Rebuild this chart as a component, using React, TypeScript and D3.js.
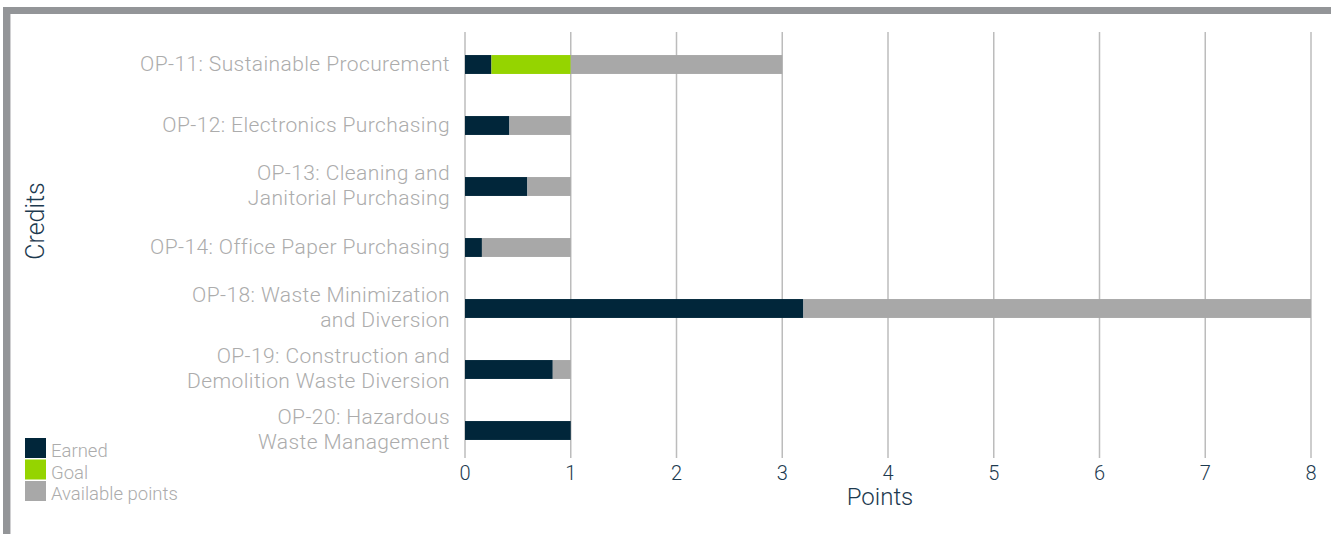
import React, { useRef, useEffect } from "react";
import * as d3 from "d3";

const categories = [
  ["OP-11: Sustainable Procurement"],
  ["OP-12: Electronics Purchasing"],
  ["OP-13: Cleaning and", "Janitorial Purchasing"],
  ["OP-14: Office Paper Purchasing"],
  ["OP-18: Waste Minimization", "and Diversion"],
  ["OP-19: Construction and", "Demolition Waste Diversion"],
  ["OP-20: Hazardous", "Waste Management"],
];
const earned = [0.25, 0.42, 0.59, 0.16, 3.2, 0.83, 1];
const goal = [0.75, 0, 0, 0, 0, 0, 0];
const available = [2, 0.58, 0.41, 0.84, 4.8, 0.17, 0];
const xTicks = [0, 1, 2, 3, 4, 5, 6, 7, 8];
const seriesNames = ["Earned", "Goal", "Available points"];
const seriesColors = ["#01263a", "#95d400", "#a8a8a8"];

const App = () => {
  const svgRef = useRef<SVGSVGElement>(null);
  const width = 1331;
  const height = 534;

  useEffect(() => {
    const svg = d3.select(svgRef.current).attr("width", width).attr("height", height);
    const root = svg.append("g").style("font-family", "Roboto, sans-serif");

    // frame
    root.append("rect").attr("x", 3).attr("y", 7).attr("width", width - 3).attr("height", 7).attr("fill", "#939598");
    root.append("rect").attr("x", 3).attr("y", 7).attr("width", 7).attr("height", height - 7).attr("fill", "#939598");
    root.append("rect").attr("x", 10).attr("y", 14).attr("width", 1).attr("height", height - 14).attr("fill", "#d0d0d2");

    const x = d3.scaleLinear().domain([0, 8]).range([465, 1311]);
    const keys = categories.map((c) => c.join(" "));
    const y = d3.scaleBand().domain(keys).range([34, 461]).paddingInner(0.69).paddingOuter(0.345);

    // grid
    root
      .append("g")
      .selectAll("line")
      .data(xTicks)
      .enter()
      .append("line")
      .attr("x1", (d) => x(d))
      .attr("x2", (d) => x(d))
      .attr("y1", 32)
      .attr("y2", 458)
      .attr("stroke", "#bcbcbc")
      .attr("stroke-width", 1.5);

    const table = keys.map((k, i) => ({ key: k, earned: earned[i], goal: goal[i], available: available[i] }));
    const stack = d3.stack<any>().keys(["earned", "goal", "available"]);
    const series = stack(table);

    root
      .append("g")
      .selectAll("g")
      .data(series)
      .enter()
      .append("g")
      .attr("fill", (d, i) => seriesColors[i])
      .selectAll("rect")
      .data((d) => d)
      .enter()
      .append("rect")
      .attr("x", (d) => x(d[0]))
      .attr("width", (d) => x(d[1]) - x(d[0]))
      .attr("y", (d) => y(d.data.key)!)
      .attr("height", y.bandwidth());

    // category labels
    const labels = root
      .append("g")
      .selectAll("text")
      .data(categories)
      .enter()
      .append("text")
      .attr("text-anchor", "end")
      .attr("font-size", 21)
      .attr("font-weight", 300)
      .attr("letter-spacing", 0.4)
      .attr("fill", "#acacac")
      .attr("x", 450)
      .attr("y", (d, i) => y(keys[i])! + y.bandwidth() / 2 + 6 - (d.length - 1) * 12.5);
    labels
      .selectAll("tspan")
      .data((d) => d)
      .enter()
      .append("tspan")
      .attr("x", 450)
      .attr("dy", (d, i) => (i === 0 ? 0 : 25))
      .text((d) => d);

    // x tick labels
    root
      .append("g")
      .selectAll("text")
      .data(xTicks)
      .enter()
      .append("text")
      .attr("x", (d) => x(d))
      .attr("y", 480)
      .attr("text-anchor", "middle")
      .attr("font-size", 20)
      .attr("font-weight", 300)
      .attr("fill", "#1d3a4f")
      .text((d) => d);

    root
      .append("text")
      .attr("x", 880)
      .attr("y", 505)
      .attr("text-anchor", "middle")
      .attr("font-size", 24)
      .attr("font-weight", 300)
      .attr("fill", "#1d3a4f")
      .text("Points");

    root
      .append("text")
      .attr("transform", "translate(44,221) rotate(-90)")
      .attr("text-anchor", "middle")
      .attr("font-size", 25)
      .attr("font-weight", 300)
      .attr("fill", "#1d3a4f")
      .text("Credits");

    // legend
    const legend = root
      .append("g")
      .selectAll("g")
      .data(seriesNames)
      .enter()
      .append("g")
      .attr("transform", (d, i) => `translate(25,${438 + i * 21.5})`);
    legend.append("rect").attr("width", 21).attr("height", 20).attr("fill", (d, i) => seriesColors[i]);
    legend
      .append("text")
      .attr("x", 26)
      .attr("y", 19)
      .attr("font-size", 18.5)
      .attr("font-weight", 300)
      .attr("fill", "#acacac")
      .text((d) => d);

    return () => {
      root.remove();
    };
  }, []);

  return <svg ref={svgRef} style={{ position: "absolute", left: 0, top: 0 }} />;
};

export default App;
